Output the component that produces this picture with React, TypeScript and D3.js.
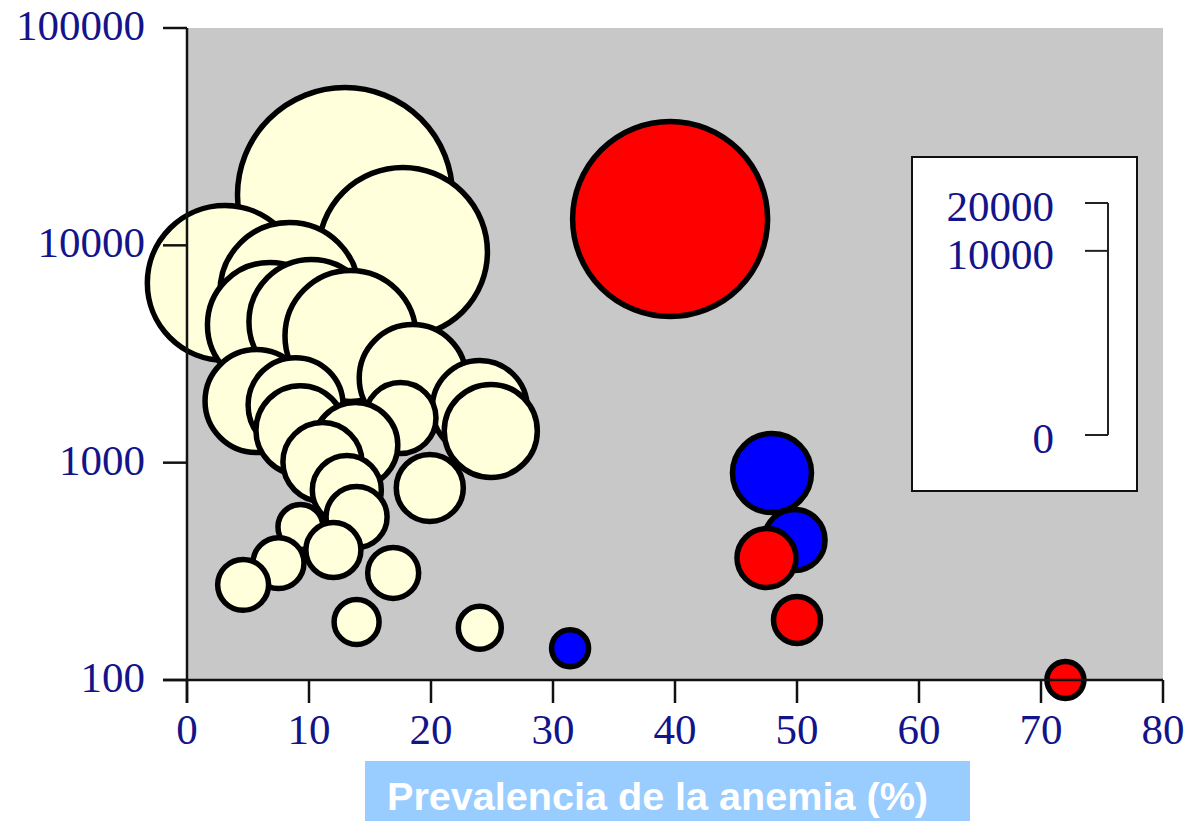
import React from 'react';
import * as d3 from 'd3';

// prevalence of anemia (%), population (log axis), bubble size value
const creamPrev = [12.95, 17.7, 3.1, 8.4, 6.8, 10.2, 13.4, 18.5, 24.0, 24.9, 5.7, 8.9, 9.3, 17.5, 13.8, 11.1, 13.1, 19.9, 13.9, 9.3, 7.5, 12.0, 4.6, 16.9, 13.9, 24.0];
const creamPop = [17040, 9320, 6710, 6100, 4300, 4440, 3830, 2450, 1785, 1400, 1920, 1840, 1410, 1605, 1205, 1007, 748, 765, 562, 506, 345, 396, 274, 311, 185, 174];
const creamSize = [15920, 7730, 5960, 4300, 3130, 3130, 3600, 1960, 1370, 1290, 1750, 1370, 1130, 573, 980, 790, 526, 482, 364, 146, 212, 267, 212, 212, 146, 127];

const bluePrev = [47.95, 49.8, 31.4];
const bluePop = [896, 441, 140];
const blueSize = [790, 364, 81];

const redPrev = [39.6, 47.5, 50.0, 72.0];
const redPop = [13220, 364, 189, 100];
const redSize = [11880, 329, 166, 81];

const xTicks = [0, 10, 20, 30, 40, 50, 60, 70, 80];
const yTicks = [100, 1000, 10000, 100000];
const sizeTicks = [0, 10000, 20000];
const xTitle = 'Prevalencia de la anemia (%)';

const W = 1186;
const H = 821;
const tickColor = '#14148a';
const serif = '"Liberation Serif", "Times New Roman", serif';

export default function App() {
  const x = d3.scaleLinear().domain([0, 80]).range([187, 1163]);
  const y = d3.scaleLog().domain([100, 100000]).range([680, 28]);
  // bubble diameter grows with the cube root of the value
  const diam = d3.scalePow().exponent(1 / 3).domain([0, 20000]).range([0, 232]);

  const series = [
    { fill: '#ffffdc', prev: creamPrev, pop: creamPop, size: creamSize },
    { fill: '#0000ff', prev: bluePrev, pop: bluePop, size: blueSize },
    { fill: '#ff0000', prev: redPrev, pop: redPop, size: redSize },
  ];

  const legendBase = 435;
  const legendY = (v: number) => legendBase - diam(v);

  return (
    <svg width={W} height={H} style={{ position: 'absolute', left: 0, top: 0, background: '#fff' }}>
      <rect x={x(0)} y={y(100000)} width={x(80) - x(0)} height={y(100) - y(100000)} fill="#c8c8c8" />

      {series.map((s, si) =>
        s.prev.map((p, i) => (
          <circle
            key={si + '-' + i}
            cx={x(p)}
            cy={y(s.pop[i])}
            r={diam(s.size[i]) / 2}
            fill={s.fill}
            stroke="#000"
            strokeWidth={5.5}
          />
        ))
      )}

      {/* size legend */}
      <rect x={912} y={157} width={225} height={334} fill="#fff" stroke="#111" strokeWidth={2} />
      <line x1={1108} x2={1108} y1={legendY(20000)} y2={legendY(0)} stroke="#222" strokeWidth={2} />
      {sizeTicks.map((t) => (
        <g key={t}>
          <line x1={1085} x2={1108} y1={legendY(t)} y2={legendY(t)} stroke="#222" strokeWidth={2} />
          <text x={1054} y={legendY(t) + 18} textAnchor="end" fontFamily={serif} fontSize={43} fill={tickColor}>
            {t}
          </text>
        </g>
      ))}

      {/* axes */}
      <line x1={x(0)} x2={x(0)} y1={y(100000)} y2={y(100) + 23} stroke="#111" strokeWidth={2.5} />
      <line x1={x(0) - 24} x2={x(80)} y1={y(100)} y2={y(100)} stroke="#111" strokeWidth={2.5} />
      {yTicks.map((t) => (
        <g key={t}>
          <line x1={x(0) - 24} x2={x(0)} y1={y(t)} y2={y(t)} stroke="#111" strokeWidth={2.5} />
          <text x={145} y={y(t) + 12} textAnchor="end" fontFamily={serif} fontSize={43} fill={tickColor}>
            {t}
          </text>
        </g>
      ))}
      {xTicks.map((t) => (
        <g key={t}>
          <line x1={x(t)} x2={x(t)} y1={y(100)} y2={y(100) + 23} stroke="#111" strokeWidth={2.5} />
          <text x={x(t)} y={744} textAnchor="middle" fontFamily={serif} fontSize={43} fill={tickColor}>
            {t}
          </text>
        </g>
      ))}

      <rect x={365} y={761} width={605} height={60} fill="#99ccff" />
      <text
        x={387}
        y={810}
        fontFamily='"Liberation Sans", Arial, sans-serif'
        fontWeight="bold"
        fontSize={39.5}
        fill="#fff"
        textLength={541}
        lengthAdjust="spacingAndGlyphs"
      >
        {xTitle}
      </text>
    </svg>
  );
}
